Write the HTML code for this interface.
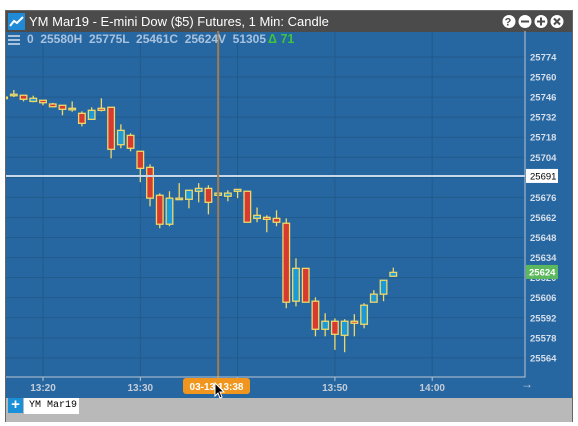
<!DOCTYPE html>
<html><head><meta charset="utf-8">
<style>
body{margin:0;background:#fff;width:578px;height:426px;overflow:hidden;font-family:"Liberation Sans",sans-serif}
#panel{position:absolute;left:5px;top:10px;width:568px;height:412px;background:#2767a1;border:1px solid #666;box-sizing:border-box}
#title{position:absolute;left:0;top:0;width:100%;height:21px;background:#4b4b4b;color:#fff;font-size:13px;line-height:21px}
#bottom{position:absolute;left:0;top:387px;width:100%;height:24px;background:#b9b9b9}
</style></head><body>
<div id="panel">
<div id="title">
 <svg style="position:absolute;left:2px;top:2px" width="17" height="17"><rect width="17" height="17" fill="#1f8ad6"/><polyline points="2,13 6,8 9,10 15,4" fill="none" stroke="#fff" stroke-width="2"/></svg>
 <span style="position:absolute;left:23px">YM Mar19 - E-mini Dow ($5) Futures, 1 Min: Candle</span>
 <span style="position:absolute;right:4px;top:3px;color:#fff;font-size:12px;font-weight:bold;letter-spacing:2px">
 <svg width="66" height="15"><g fill="#fff"><circle cx="7" cy="7.5" r="6.5"/><circle cx="23" cy="7.5" r="6.5"/><circle cx="39" cy="7.5" r="6.5"/><circle cx="55" cy="7.5" r="6.5"/></g>
 <text x="7" y="11.5" font-size="11" font-weight="bold" text-anchor="middle" fill="#4b4b4b">?</text>
 <rect x="19" y="6.5" width="8" height="2" fill="#4b4b4b"/><rect x="35" y="6.5" width="8" height="2" fill="#4b4b4b"/><rect x="38" y="3.5" width="2" height="8" fill="#4b4b4b"/>
 <path d="M52 4.5l6 6M58 4.5l-6 6" stroke="#4b4b4b" stroke-width="2"/></svg></span>
</div>
<div id="bottom">
 <div style="position:absolute;left:2px;top:0;width:15px;height:15px;background:#1a90d8;color:#fff;font-weight:bold;font-size:15px;line-height:14px;text-align:center">+</div>
 <div style="position:absolute;left:18px;top:0;width:55px;height:16px;background:#fff;font-size:10px;line-height:16px;text-indent:5px;font-family:'Liberation Mono',monospace">YM Mar19</div>
</div>
</div>
<svg id="chart" width="578" height="426" style="position:absolute;left:0;top:0"></svg>
<script>
const minutes=[16,17,18,19,20,21,22,23,24,25,26,27,28,29,30,31,32,33,34,35,36,37,38,39,40,41,42,43,44,45,46,47,48,49,50,51,52,53,54,55,56];
const opens=[25746,25748,25747.3,25743,25743.8,25741.2,25740.3,25738.2,25734.7,25730.5,25738.2,25738.9,25712.8,25719.3,25708.2,25697,25677.5,25657.3,25675.5,25674.7,25680.3,25682.3,25677.5,25676.8,25680.3,25680.3,25661.4,25662.1,25661.4,25658,25603.6,25626.5,25603.6,25584,25589.6,25579.8,25589.6,25587.5,25602.9,25608.5,25621];
const highs=[25748,25751,25747.5,25747,25744,25742,25740.5,25743,25736.1,25738.9,25745.2,25739,25727,25720.8,25708.2,25699.1,25678.9,25680.3,25686,25681,25686,25684.5,25684.5,25681,25681.6,25680.3,25669,25663.5,25667,25661.4,25633.5,25626.5,25606.3,25595.2,25591.6,25591,25594.5,25602.2,25611.3,25618.2,25627];
const lows=[25742,25746,25743,25742.4,25740.3,25739,25733.3,25735.8,25725.6,25730.5,25736,25703.3,25710.3,25708.2,25686.6,25669.8,25654.5,25655.9,25674.7,25668.4,25672.6,25664.2,25672.6,25673.3,25675.5,25658.7,25658.7,25651.7,25655.9,25598.7,25600,25602.9,25579.1,25579.1,25569.6,25568,25579.1,25584.7,25602.9,25603.6,25621];
const closes=[25745,25748,25744.5,25745.2,25742.1,25739.3,25737.5,25738.2,25727.7,25736.8,25736.8,25709.6,25722.8,25710.3,25696.3,25675.5,25657.3,25675.5,25675.5,25681,25682.3,25672.6,25679,25679,25681.6,25658.7,25663.5,25660.7,25658.7,25602.9,25626.5,25602.9,25584,25589.6,25580.5,25589.6,25588.2,25600.8,25608.5,25618.2,25623.7];
const yTicks=[25774,25760,25746,25732,25718,25704,25690,25676,25662,25648,25634,25620,25606,25592,25578,25564];
const xTicks=[20,30,40,50,60];
const xTickLabels=["13:20","13:30","","13:50","14:00"];
const info={open:"0",high:"25580H",low:"25775L",close:"25461C",vol:"25624V",volv:"51305",chg:"71"};
const crossPrice=25691,lastPrice=25624,crossMin=38;

const NS="http://www.w3.org/2000/svg",svg=document.getElementById('chart');
const L=6,R=525,T=31,B=377;
const y=p=>57+(25774-p)*1.433;
const x=m=>43+(m-20)*9.73;
function mk(t,a,p){const e=document.createElementNS(NS,t);for(const k in a)e.setAttribute(k,a[k]);(p||svg).appendChild(e);return e;}
const defs=mk('defs',{});const cp=mk('clipPath',{id:'pc'},defs);mk('rect',{x:L,y:T,width:R-L,height:B-T},cp);
const g=mk('g',{'clip-path':'url(#pc)'});
yTicks.forEach(v=>{const l=mk('line',{x1:L,x2:R,y1:y(v),y2:y(v),stroke:'#215a8c','stroke-width':1},g);

const t=mk('text',{x:530,y:y(v)+3.5,fill:'#d6dfea','font-size':9.5,'font-weight':'bold','font-family':'Liberation Sans'});t.textContent=v;
});
xTicks.forEach((m,i)=>{const l=mk('line',{x1:x(m),x2:x(m),y1:T,y2:B,stroke:'#215a8c'},g);

mk('line',{x1:x(m),x2:x(m),y1:B,y2:B+4,stroke:'#b8c4d2'});
const t=mk('text',{x:x(m),y:391,fill:'#c4cdd8','font-size':10,'font-weight':'bold','text-anchor':'middle','font-family':'Liberation Sans'});t.textContent=xTickLabels[i];
});
minutes.forEach((m,i)=>{const o=opens[i],c=closes[i],cx=x(m);
const w=mk('line',{x1:cx,x2:cx,y1:y(highs[i]),y2:y(lows[i]),stroke:'#f0d868','stroke-width':1.3},g);

const top=y(Math.max(o,c)),h=Math.max(1.5,y(Math.min(o,c))-top);
const r=mk('rect',{x:cx-3.3,y:top,width:6.6,height:h,fill:c<o?'#d63a30':'#1a9ad8',stroke:'#f0d868','stroke-width':1.3},g);
});
const hl=mk('line',{x1:L,x2:R,y1:y(crossPrice),y2:y(crossPrice),stroke:'#c8d8ea','stroke-width':2});

const vl=mk('line',{x1:x(crossMin),x2:x(crossMin),y1:T,y2:B+8,stroke:'#a07c50','stroke-width':2});

mk('polyline',{points:`${L},${B} ${R},${B} ${R},${T}`,fill:'none',stroke:'#b8c4d2','stroke-width':1});
const cb=mk('rect',{x:526,y:y(crossPrice)-7,width:32,height:14,fill:'#fff'});
const ct=mk('text',{x:530,y:y(crossPrice)+3.5,fill:'#000','font-size':9.5,'font-family':'Liberation Sans'});ct.textContent=crossPrice;
const lb=mk('rect',{x:526,y:y(lastPrice)-7,width:32,height:14,fill:'#5cb85c'});
const lt=mk('text',{x:529,y:y(lastPrice)+3.5,fill:'#fff','font-size':9.5,'font-weight':'bold','font-family':'Liberation Sans'});lt.textContent=lastPrice;
const tb=mk('rect',{x:183,y:378,width:67,height:16,rx:3,fill:'#f0961e'});
const tt=mk('text',{x:216.5,y:390,fill:'#fff','font-size':10,'font-weight':'bold','text-anchor':'middle','font-family':'Liberation Sans'});tt.textContent='03-13 13:38';
const cur=mk('path',{d:'M215 383 l0 13 l3 -3 l2 5 l2 -1 l-2 -5 l4 0 z',fill:'#000',stroke:'#fff','stroke-width':1});
const ar=mk('text',{x:521,y:388,fill:'#c4cdd8','font-size':12,'font-weight':'bold'});ar.textContent='→';
const hm=mk('g',{fill:'#a8c2de'});[35,39,43].forEach(v=>mk('rect',{x:8,y:v,width:12,height:2},hm));

const it=mk('text',{x:27,y:43,fill:'#a8c2de','font-size':12,'font-weight':'bold','font-family':'Liberation Sans',textLength:239,lengthAdjust:'spacingAndGlyphs'});
it.textContent=`${info.open}  ${info.high}  ${info.low}  ${info.close}  ${info.vol}  ${info.volv}`;
it.style.whiteSpace='pre';
const gt=mk('text',{x:268,y:43,fill:'#3ec43e','font-size':12.5,'font-weight':'bold','font-family':'Liberation Sans'});gt.textContent='Δ '+info.chg;gt.style.whiteSpace='pre';

</script>
</body></html>
